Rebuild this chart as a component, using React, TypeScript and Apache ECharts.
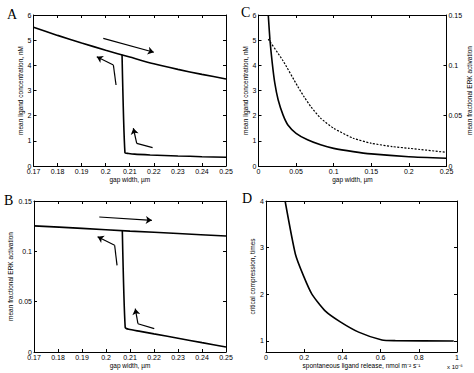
import React, { useEffect, useRef } from "react";
import * as echarts from "echarts";

// Panel A: mean ligand concentration vs gap width (hysteresis)
const gapUpper = [0.17, 0.18, 0.19, 0.2, 0.21, 0.22, 0.23, 0.24, 0.25];
const ligandUpper = [5.51, 5.19, 4.89, 4.6, 4.33, 4.06, 3.84, 3.64, 3.46];
const gapLower = [0.2068, 0.208, 0.2095, 0.212, 0.2185, 0.23, 0.24, 0.25];
const ligandLower = [4.42, 0.53, 0.5, 0.47, 0.44, 0.4, 0.37, 0.35];

// Panel B: mean fractional ERK activation vs gap width
const gapUpperB = [0.17, 0.19, 0.21, 0.23, 0.25];
const erkUpper = [0.1253, 0.1228, 0.1201, 0.1177, 0.1152];
const gapLowerB = [0.2068, 0.208, 0.2095, 0.2143, 0.22, 0.23, 0.24, 0.25];
const erkLower = [0.1205, 0.0245, 0.0225, 0.0205, 0.018, 0.0137, 0.0093, 0.005];

// Panel C
const gapC = [0.013, 0.0152, 0.0183, 0.0217, 0.0261, 0.0326, 0.0391, 0.05, 0.0652, 0.0826, 0.1, 0.126, 0.15, 0.2, 0.25];
const ligandC = [6.0, 5.02, 4.09, 3.29, 2.63, 2.03, 1.63, 1.3, 1.04, 0.84, 0.7, 0.57, 0.48, 0.37, 0.31];
const gapCDash = [0.013, 0.0326, 0.0522, 0.0609, 0.0696, 0.0826, 0.1, 0.126, 0.15, 0.178, 0.2, 0.25];
const erkC = [0.126, 0.1045, 0.079, 0.0684, 0.059, 0.0475, 0.0375, 0.0276, 0.0226, 0.0193, 0.0176, 0.0136];

// Panel D
const releaseD = [0.1, 0.154, 0.197, 0.241, 0.311, 0.389, 0.485, 0.607, 0.677, 0.983];
const compressionD = [4.0, 2.86, 2.39, 2.0, 1.64, 1.41, 1.19, 1.02, 1.007, 1.0];
const ticksD = [1, 2, 3, 4];

// Arrow annotations (data coordinates); last segment carries the head
const arrowsA = [
  [[0.199, 5.07], [0.22, 4.52]],
  [[0.2043, 3.22], [0.2032, 4.01], [0.1963, 4.34]],
  [[0.2195, 0.73], [0.2129, 0.9], [0.2115, 1.5]],
];
const arrowsB = [
  [[0.1972, 0.1341], [0.2191, 0.1308]],
  [[0.2046, 0.0861], [0.2036, 0.106], [0.1965, 0.1145]],
  [[0.2201, 0.0232], [0.2133, 0.0281], [0.2122, 0.043]],
];

const SANS = "Liberation Sans";
const zip = (a: number[], b: number[]) => a.map((v, i) => [v, b[i]]);

const baseAxis = (showLabel: boolean) => ({
  axisLine: { show: true, onZero: false, lineStyle: { color: "#000", width: 1 } },
  axisTick: { show: true, inside: true, length: 3, lineStyle: { color: "#000", width: 1 } },
  axisLabel: { show: showLabel, color: "#000", fontSize: 7, fontFamily: SANS, margin: 2 },
  splitLine: { show: false },
  nameTextStyle: { color: "#000", fontSize: 6.5, fontFamily: SANS },
});

function xAx(grid: number, min: number, max: number, interval: number, pos: string, showLabel: boolean, name = "", nameGap = 8) {
  const a: any = { type: "value", gridIndex: grid, min, max, interval, position: pos, ...baseAxis(showLabel) };
  if (name) { a.name = name; a.nameLocation = "middle"; a.nameGap = nameGap; }
  return a;
}
function yAx(grid: number, min: number, max: number, interval: number | null, pos: string, showLabel: boolean, name = "", nameGap = 8, custom?: number[]) {
  const a: any = { type: "value", gridIndex: grid, min, max, position: pos, ...baseAxis(showLabel) };
  if (interval !== null) a.interval = interval;
  if (custom) {
    a.axisTick = { ...a.axisTick, customValues: custom };
    a.axisLabel = { ...a.axisLabel, customValues: custom };
  }
  if (name) { a.name = name; a.nameLocation = "middle"; a.nameGap = nameGap; a.nameRotate = 90; }
  return a;
}

const lineS = (xi: number, yi: number, data: number[][], dashed = false) => ({
  type: "line",
  xAxisIndex: xi,
  yAxisIndex: yi,
  data,
  showSymbol: false,
  smooth: 0.2,
  clip: true,
  lineStyle: { color: "#000", width: dashed ? 1.2 : 1.6, type: dashed ? [2, 1.5] : "solid" },
});

const segs = (arrows: number[][][], heads: boolean) => {
  const out: any[] = [];
  arrows.forEach((c) => {
    for (let i = 0; i < c.length - 1; i++) {
      const last = i === c.length - 2;
      if (last === heads) out.push({ coords: [c[i], c[i + 1]] });
    }
  });
  return out;
};

const arrowS = (xi: number, yi: number, arrows: number[][][], heads: boolean) => ({
  type: "lines",
  coordinateSystem: "cartesian2d",
  xAxisIndex: xi,
  yAxisIndex: yi,
  symbol: heads ? ["none", "arrow"] : ["none", "none"],
  symbolSize: 6,
  lineStyle: { color: "#000", width: 1.2, opacity: 1, curveness: 0 },
  itemStyle: { color: "#000" },
  data: segs(arrows, heads),
});

const letter = (t: string, x: number, y: number) => ({
  type: "text",
  left: x,
  top: y,
  style: { text: t, fontSize: 14, fontFamily: "Liberation Serif", fill: "#000" },
});

const option: any = {
  animation: false,
  backgroundColor: "#fff",
  grid: [
    { left: 33.5, top: 15, width: 192.5, height: 151 },
    { left: 34, top: 201, width: 192, height: 151 },
    { left: 258.5, top: 15, width: 191.5, height: 151 },
    { left: 266, top: 201, width: 191, height: 151 },
  ],
  xAxis: [
    xAx(0, 0.17, 0.25, 0.01, "bottom", true, "gap width, \u00b5m", 7.5),
    xAx(0, 0.17, 0.25, 0.01, "top", false),
    xAx(1, 0.17, 0.25, 0.01, "bottom", true, "gap width, \u00b5m", 7.5),
    xAx(1, 0.17, 0.25, 0.01, "top", false),
    xAx(2, 0, 0.25, 0.05, "bottom", true, "gap width, \u00b5m", 7.5),
    xAx(2, 0, 0.25, 0.05, "top", false),
    xAx(3, 0, 1, 0.2, "bottom", true, "spontaneous ligand release, nmol m\u207b\u00b2 s\u207b\u00b9", 10),
    xAx(3, 0, 1, 0.2, "top", false),
  ],
  yAxis: [
    yAx(0, 0, 6, 1, "left", true, "mean ligand concentration, nM", 9),
    yAx(0, 0, 6, 1, "right", false),
    yAx(1, 0, 0.15, 0.05, "left", true, "mean fractional ERK activation", 16),
    yAx(1, 0, 0.15, 0.05, "right", false),
    yAx(2, 0, 6, 1, "left", true, "mean ligand concentration, nM", 8),
    yAx(2, 0, 0.15, 0.05, "right", true, "mean fractional ERK activation", 17),
    yAx(3, 0.764, 4, null, "left", true, "critical compression, times", 6, ticksD),
    yAx(3, 0.764, 4, null, "right", false, "", 8, ticksD),
  ],
  series: [
    lineS(0, 0, zip(gapUpper, ligandUpper)),
    lineS(0, 0, zip(gapLower, ligandLower)),
    arrowS(0, 0, arrowsA, false),
    arrowS(0, 0, arrowsA, true),
    lineS(2, 2, zip(gapUpperB, erkUpper)),
    lineS(2, 2, zip(gapLowerB, erkLower)),
    arrowS(2, 2, arrowsB, false),
    arrowS(2, 2, arrowsB, true),
    lineS(4, 4, zip(gapC, ligandC)),
    lineS(4, 5, zip(gapCDash, erkC), true),
    lineS(6, 6, zip(releaseD, compressionD)),
  ],
  graphic: [
    letter("A", 7, 7),
    letter("B", 4, 193),
    letter("C", 241, 5),
    letter("D", 242, 191),
    {
      type: "text",
      left: 447,
      top: 364,
      style: { text: "x 10\u207b\u2076", fontSize: 6, fontFamily: SANS, fill: "#000" },
    },
  ],
};

export default function App() {
  const ref = useRef<HTMLDivElement>(null);
  useEffect(() => {
    const chart = echarts.init(ref.current!, null, { renderer: "svg" });
    chart.setOption(option);
    return () => chart.dispose();
  }, []);
  return (
    <div
      ref={ref}
      style={{ position: "fixed", left: 0, top: 0, width: 474, height: 373, background: "#fff" }}
    />
  );
}
